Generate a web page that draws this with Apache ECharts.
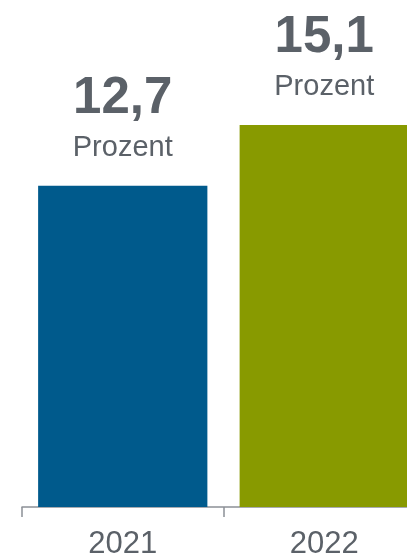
<!DOCTYPE html>
<html><head><meta charset="utf-8">
<script src="https://cdn.jsdelivr.net/npm/echarts@6/dist/echarts.min.js"></script>
<style>html,body{margin:0;padding:0;background:#fff}#c{width:407px;height:557px}</style>
</head><body><div id="c"></div>
<script>
const categories = ['2021', '2022'];
const values = [12.7, 15.1];
const valueLabels = ['12,7', '15,1'];
const unitLabel = 'Prozent';
const barColors = ['#005a8c', '#889a00'];

const chart = echarts.init(document.getElementById('c'), null, {renderer: 'canvas'});
chart.setOption({
  animation: false,
  grid: {left: 22, width: 403, top: 1, bottom: 50, containLabel: false, outerBoundsMode: 'none'},
  xAxis: {
    type: 'category', data: categories,
    axisLine: {lineStyle: {color: '#8c9096', width: 1.5}},
    axisTick: {show: true, length: 10, lineStyle: {color: '#8c9096', width: 1.5}},
    axisLabel: {color: '#5b6168', fontSize: 31, fontFamily: 'Liberation Sans, Arial, sans-serif', margin: 22}
  },
  yAxis: {type: 'value', min: 0, max: 20, show: false, splitLine: {show: false}},
  series: [{
    type: 'bar', barWidth: '84%',
    data: values.map((v, i) => ({value: v, itemStyle: {color: barColors[i]}})),
    label: {
      show: true, position: 'top', distance: 23,
      formatter: p => '{a|' + valueLabels[p.dataIndex] + '}\n{b|' + unitLabel + '}',
      rich: {
        a: {fontSize: 51, fontWeight: 'bold', color: '#5b6168', fontFamily: 'Liberation Sans, Arial, sans-serif', lineHeight: 68},
        b: {fontSize: 29, color: '#5b6168', fontFamily: 'Liberation Sans, Arial, sans-serif', lineHeight: 30}
      }
    }
  }]
});
</script></body></html>
